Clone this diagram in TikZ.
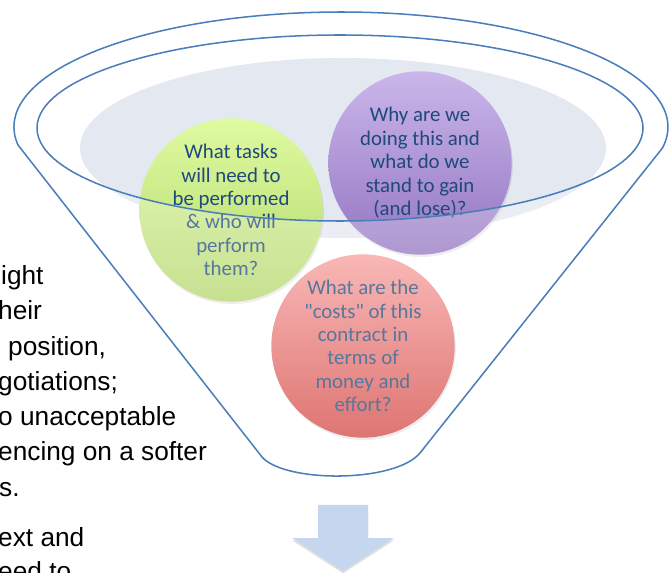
\documentclass[tikz,border=0pt]{standalone}
\usepackage{fontspec}
\setmainfont{Liberation Sans}
\newfontfamily\calibri{Carlito}
\usetikzlibrary{shadows}
\definecolor{funnelblue}{RGB}{74,126,187}
\definecolor{rimfill}{RGB}{227,232,241}
\definecolor{bubbletext}{RGB}{31,73,125}
\definecolor{arrowblue}{RGB}{197,215,238}

\begin{document}
\begin{tikzpicture}[x=0.03cm, y=-0.03cm,
        rim/.style = {draw = funnelblue, line width = 1.3pt},
        bubble/.style = {circle, minimum size = 5.5cm, inner sep = 0pt, align = center,
                         text = bubbletext, font = \calibri\fontsize{17.8}{20}\selectfont,
                         drop shadow = {opacity = 0.18, shadow xshift = 1pt, shadow yshift = -2pt}},
        sidetext/.style = {anchor = base west, inner sep = 0pt, font = \fontsize{22.4}{30}\selectfont}]
    \path[use as bounding box, clip] (0,0) rectangle (669,573);
    % back of the funnel
    \fill[rimfill] (343,148) ellipse[x radius = 263, y radius = 90];
    % bubbles
    \node[bubble, top color = {rgb,255:red,247;green,160;blue,158}, bottom color = {rgb,255:red,211;green,72;blue,68}]
        (cost) at (363,346) {What are the\\"costs" of this\\contract in\\terms of\\money and\\effort?};
    \node[bubble, top color = {rgb,255:red,222;green,251;blue,160}, bottom color = {rgb,255:red,180;green,214;blue,108}]
        (tasks) at (231,210) {What tasks\\will need to\\be performed\\\& who will\\perform\\them?};
    \node[bubble, top color = {rgb,255:red,202;green,182;blue,234}, bottom color = {rgb,255:red,148;green,118;blue,194}]
        (why) at (420,163) {Why are we\\doing this and\\what do we\\stand to gain\\(and lose)?};
    % front of the funnel
    \fill[white, fill opacity = 0.25] (14,127) -- (37,128)
        arc[start angle = 180, end angle = 0, x radius = 303, y radius = 93]
        -- (668,127) -- (662,148) -- (420,453) .. controls (395,483) and (285,483) .. (262,457)
        -- (18,145) -- cycle;
    \draw[rim] (18,145) arc[start angle = 171, end angle = 370.5, x radius = 327, y radius = 115]
        -- (420,453) .. controls (395,483) and (285,483) .. (262,457) -- cycle;
    \draw[rim] (340,128) ellipse[x radius = 303, y radius = 93];
    % arrow
    \fill[arrowblue, drop shadow = {opacity = 0.25, shadow xshift = 0pt, shadow yshift = -2pt}]
        (318,505) -- (368,505) -- (368,538) -- (394,538) -- (343,571) -- (292,538) -- (318,538) -- cycle;
    % text cut at the left edge
    \foreach \Xpos/\Ypos/\Txt [count = \i] in {1/285/ight, -2/320/heir, 8/356/{position,},
            -2/391/{gotiations;}, -2/426/o unacceptable, -2/461/encing on a softer,
            -1/496/s., -2/546/ext and, -2/580/eed to}
        \node[sidetext] (line\i) at (\Xpos,\Ypos) {\Txt};
\end{tikzpicture}
\end{document}
